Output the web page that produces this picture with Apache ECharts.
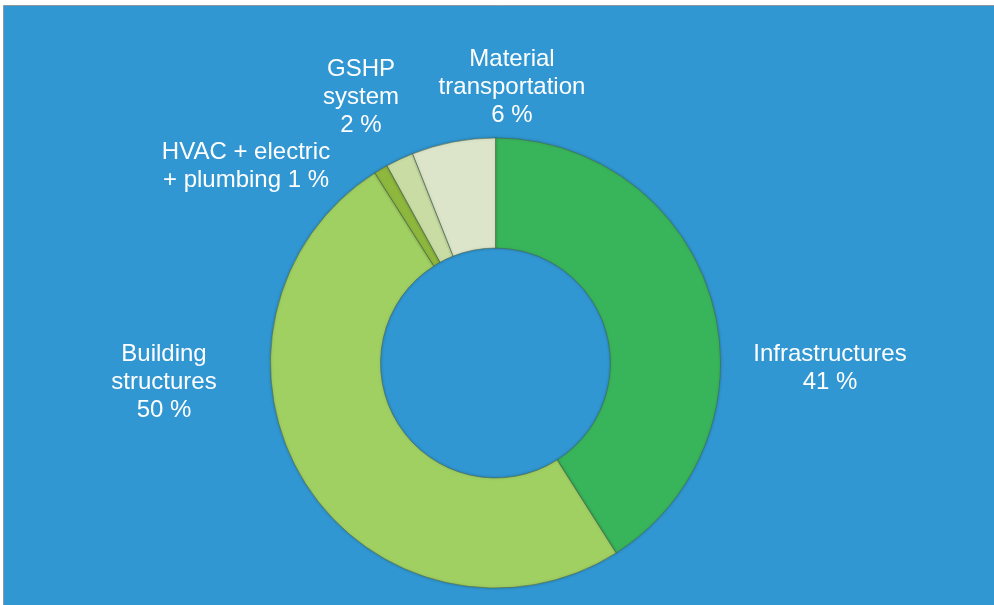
<!DOCTYPE html>
<html>
<head>
<meta charset="utf-8">
<script src="https://cdn.jsdelivr.net/npm/echarts@6/dist/echarts.min.js"></script>
<style>
  html, body { margin: 0; padding: 0; background: #ffffff; }
  #chart { width: 994px; height: 605px; }
</style>
</head>
<body>
<div id="chart"></div>
<script>
// Share of embodied impact by component (percent), clockwise from 12 o'clock
const categories = ['Infrastructures', 'Building\nstructures', 'HVAC + electric\n+ plumbing', 'GSHP\nsystem', 'Material\ntransportation'];
const shares = [41, 50, 1, 2, 6];
// joiner placed between a category name and its percentage
const valueJoin = ['\n', '\n', ' ', '\n', '\n'];

// slice fill colours
const sliceColors = ['#38b55b', '#a0cf62', '#8eb73d', '#c9dca4', '#dce5c9'];
// label anchor points (block centre) in pixels
const labelPos = [[830, 368], [164, 382], [246, 166], [361, 97], [512, 87]];

const chart = echarts.init(document.getElementById('chart'), null, { renderer: 'canvas' });

const data = categories.map((name, i) => ({
  name: name,
  value: shares[i],
  itemStyle: { color: sliceColors[i] },
  label: { formatter: name + valueJoin[i] + shares[i] + ' %' }
}));

chart.setOption({
  backgroundColor: '#ffffff',
  animation: false,
  graphic: [{
    type: 'rect',
    z: -10,
    silent: true,
    shape: { x: 3.5, y: 5.5, width: 995, height: 605 },
    style: { fill: '#3197d3', stroke: '#8c99a3', lineWidth: 1 }
  }],
  series: [{
    type: 'pie',
    center: [495.5, 363],
    radius: [115, 225],
    startAngle: 90,
    clockwise: true,
    avoidLabelOverlap: false,
    itemStyle: {
      borderColor: 'rgba(75,95,70,0.55)',
      borderWidth: 1,
      shadowColor: 'rgba(0,40,20,0.25)',
      shadowBlur: 3
    },
    label: {
      show: true,
      position: 'outside',
      color: '#ffffff',
      fontFamily: '"Liberation Sans", Arial, Helvetica, sans-serif',
      fontSize: 24,
      lineHeight: 28,
      align: 'center'
    },
    labelLine: { show: false },
    labelLayout: function (p) {
      const pos = labelPos[p.dataIndex];
      return { x: pos[0], y: pos[1], align: 'center', verticalAlign: 'middle', hideOverlap: false, moveOverlap: null };
    },
    data: data
  }]
});
</script>
</body>
</html>
